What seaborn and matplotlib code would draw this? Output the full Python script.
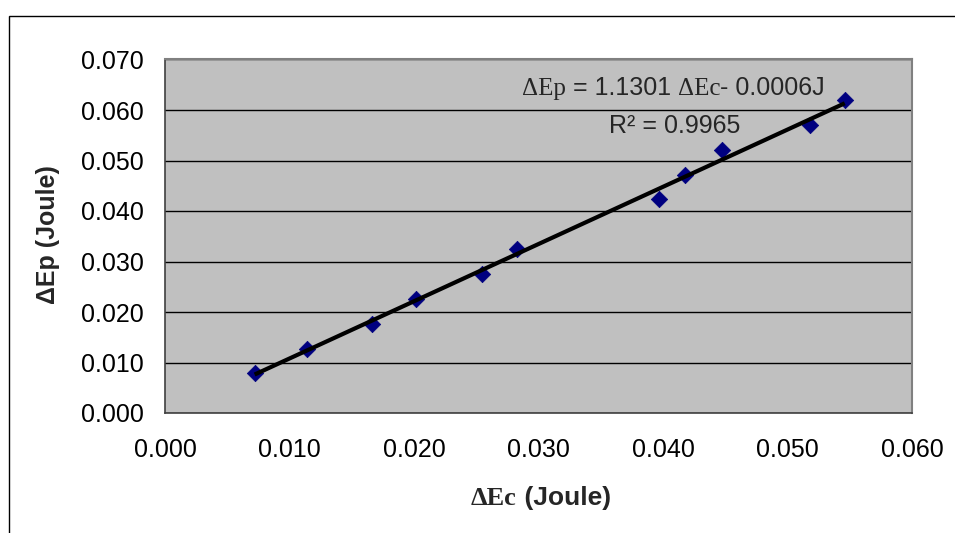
import numpy as np
import pandas as pd
import matplotlib
matplotlib.use("Agg")
import matplotlib.pyplot as plt
import seaborn as sns
from matplotlib.patches import Rectangle
from matplotlib.ticker import FixedLocator, StrMethodFormatter

# values
delta_ec = [0.0072, 0.0114, 0.0166, 0.0202, 0.0255, 0.0283, 0.0397, 0.0418, 0.0447, 0.0518, 0.0546]
delta_ep = [0.0079, 0.0127, 0.0176, 0.0226, 0.0275, 0.0325, 0.0424, 0.0471, 0.0521, 0.0570, 0.0620]
x_ticks = [0.000, 0.010, 0.020, 0.030, 0.040, 0.050, 0.060]
y_ticks = [0.000, 0.010, 0.020, 0.030, 0.040, 0.050, 0.060, 0.070]
eq_parts = [("ΔEp", "serif"), (" = 1.1301 ", "sans"), ("ΔEc", "serif"), ("- 0.0006J", "sans")]
r2_text = "R² = 0.9965"
xlabel_parts = [("ΔEc", "serif"), (" (Joule)", "sans")]
ylabel_text = "ΔEp (Joule)"

df = pd.DataFrame({"dEc": delta_ec, "dEp": delta_ep})

sns.set_style("white")
plt.rcParams["font.family"] = ["Liberation Sans", "DejaVu Sans"]

W, H = 955, 533
fig = plt.figure(figsize=(W / 100, H / 100), dpi=100)
ax = fig.add_axes([165 / W, 1 - 413 / H, (912 - 165) / W, (413 - 59.5) / H])
ax.set_facecolor("#c0c0c0")

sns.scatterplot(data=df, x="dEc", y="dEp", marker="D", s=70, color="#000080",
                edgecolor="#000080", linewidth=0.5, zorder=3, ax=ax)
sns.regplot(data=df, x="dEc", y="dEp", scatter=False, ci=None, color="black",
            line_kws={"lw": 3, "zorder": 4, "solid_capstyle": "butt"}, ax=ax)

ax.set_xlim(0, 0.06)
ax.set_ylim(0, 0.07)
ax.xaxis.set_major_locator(FixedLocator(x_ticks))
ax.yaxis.set_major_locator(FixedLocator(y_ticks))
ax.xaxis.set_major_formatter(StrMethodFormatter("{x:.3f}"))
ax.yaxis.set_major_formatter(StrMethodFormatter("{x:.3f}"))
ax.set_xlabel("")
ax.set_ylabel("")
ax.set_axisbelow(True)
ax.yaxis.grid(True, color="black", lw=1)
ax.xaxis.grid(False)

for side in ["top", "right"]:
    ax.spines[side].set_color("#808080")
    ax.spines[side].set_linewidth(1.5)
for side in ["left", "bottom"]:
    ax.spines[side].set_color("#404040")
    ax.spines[side].set_linewidth(1.2)

ax.tick_params(axis="both", direction="out", length=6, width=1, color="#404040",
               labelsize=18, labelcolor="black")
ax.tick_params(axis="x", pad=12)
ax.tick_params(axis="y", pad=9)

# outer chart border
fig.patches.append(Rectangle((9 / W, -0.1), 1.2, 1.1 - 16 / H, transform=fig.transFigure,
                             fill=False, ec="black", lw=1))


def mixed_text(parts, x, y, size, weight="normal"):
    prev = None
    for s, fam in parts:
        family = "Liberation Serif" if fam == "serif" else "Liberation Sans"
        if prev is None:
            prev = fig.text(x / W, 1 - y / H, s, fontsize=size, fontweight=weight,
                            family=family, ha="left", va="baseline")
        else:
            prev = ax.annotate(s, xy=(1, 0), xycoords=prev, fontsize=size,
                               fontweight=weight, family=family,
                               ha="left", va="bottom", annotation_clip=False)


mixed_text(eq_parts, 522, 95, 18)
fig.text(609 / W, 1 - 133 / H, r2_text, fontsize=18, family="Liberation Sans", va="baseline")
mixed_text(xlabel_parts, 471, 505, 19, weight="bold")
fig.text(48 / W, 1 - 235 / H, ylabel_text, fontsize=18, fontweight="bold",
         family="Liberation Sans", rotation=90, ha="center", va="center")

fig.savefig("out.png", dpi=100)
